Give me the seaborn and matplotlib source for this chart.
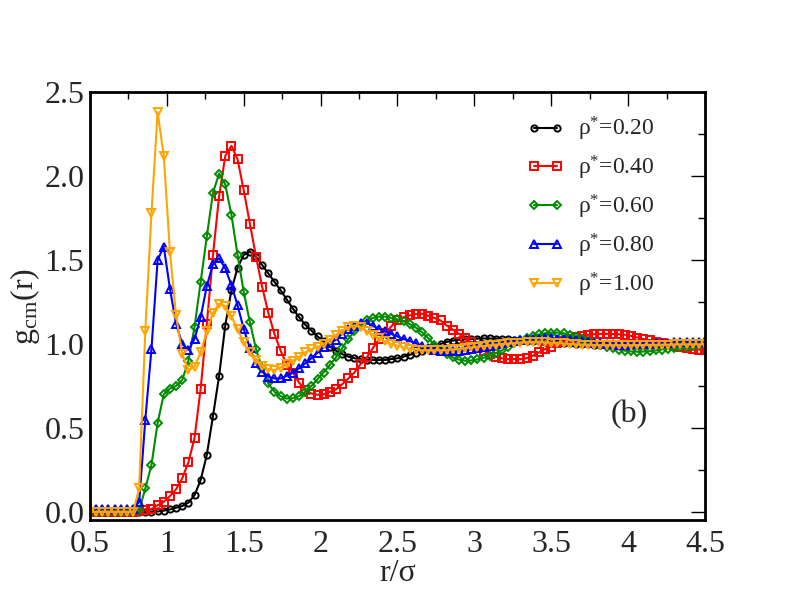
import numpy as np
import pandas as pd
import matplotlib
matplotlib.use("Agg")
import matplotlib.pyplot as plt
from matplotlib.ticker import MultipleLocator
import seaborn as sns

# r/sigma grid of the histogram (step 0.04)
r = np.linspace(0.5, 4.5, 101)

g_020 = [0, 0, 0, 0, 0, 0, 0, 0, 0, 0,
         0.0, 0.003, 0.008, 0.015, 0.025, 0.035, 0.055, 0.10, 0.19, 0.34,
         0.57, 0.81, 1.11, 1.32, 1.455, 1.53, 1.55, 1.52, 1.47, 1.42,
         1.37, 1.32, 1.265, 1.21, 1.16, 1.115, 1.08, 1.045, 1.015, 0.985,
         0.96, 0.94, 0.925, 0.915, 0.91, 0.905, 0.905, 0.905, 0.905, 0.91,
         0.915, 0.925, 0.935, 0.948, 0.96, 0.975, 0.99, 1.0, 1.012, 1.02,
         1.025, 1.028, 1.03, 1.032, 1.033, 1.033, 1.032, 1.03, 1.028, 1.025,
         1.022, 1.02, 1.017, 1.015, 1.012, 1.01, 1.008, 1.005, 1.003, 1.0,
         0.998, 0.997, 0.996, 0.996, 0.997, 0.998, 1.0, 1.0, 1.001, 1.002,
         1.002, 1.002, 1.001, 1.0, 1.0, 1.0, 0.999, 0.999, 1.0, 1.0,
         1.0]

g_040 = [0, 0, 0, 0, 0, 0, 0, 0, 0.005, 0.01,
         0.018, 0.04, 0.06, 0.094, 0.135, 0.20, 0.295, 0.44, 0.735, 1.12,
         1.53, 1.88, 2.12, 2.18, 2.10, 1.915, 1.717, 1.52, 1.34, 1.185,
         1.06, 0.96, 0.877, 0.83, 0.77, 0.725, 0.705, 0.698, 0.70, 0.715,
         0.73, 0.76, 0.795, 0.83, 0.88, 0.92, 0.975, 1.03, 1.063, 1.105,
         1.14, 1.16, 1.17, 1.178, 1.18, 1.168, 1.155, 1.14, 1.11, 1.085,
         1.06, 1.035, 1.01, 0.985, 0.96, 0.943, 0.925, 0.915, 0.91, 0.91,
         0.91, 0.915, 0.93, 0.95, 0.97, 0.985, 1.005, 1.018, 1.03, 1.042,
         1.05, 1.055, 1.058, 1.06, 1.06, 1.06, 1.058, 1.055, 1.048, 1.038,
         1.03, 1.022, 1.013, 1.005, 0.998, 0.99, 0.983, 0.977, 0.972, 0.967,
         0.963]

g_060 = [0, 0, 0, 0, 0, 0, 0, 0, 0.01, 0.14,
         0.28, 0.53, 0.70, 0.735, 0.75, 0.785, 0.90, 1.10, 1.37, 1.64,
         1.90, 2.015, 1.95, 1.77, 1.53, 1.31, 1.13, 0.97, 0.855, 0.765,
         0.715, 0.69, 0.675, 0.677, 0.69, 0.715, 0.75, 0.79, 0.83, 0.875,
         0.92, 0.975, 1.03, 1.075, 1.11, 1.14, 1.155, 1.163, 1.163, 1.155,
         1.147, 1.135, 1.118, 1.097, 1.07, 1.035, 0.995, 0.965, 0.94, 0.92,
         0.907, 0.9, 0.902, 0.908, 0.918, 0.93, 0.945, 0.962, 0.985, 1.005,
         1.022, 1.037, 1.048, 1.057, 1.064, 1.068, 1.068, 1.064, 1.055, 1.043,
         1.03, 1.015, 1.005, 0.995, 0.985, 0.975, 0.967, 0.96, 0.956, 0.954,
         0.955, 0.957, 0.962, 0.967, 0.972, 0.977, 0.981, 0.985, 0.989, 0.993,
         0.997]

g_080 = [0.02, 0.02, 0.02, 0.02, 0.02, 0.02, 0.02, 0.02, 0.06, 0.55,
         0.97, 1.50, 1.58, 1.33, 1.12, 1.0, 0.965, 1.03, 1.16, 1.345,
         1.475, 1.51, 1.45, 1.35, 1.23, 1.09, 0.975, 0.885, 0.835, 0.805,
         0.795, 0.795, 0.81, 0.83, 0.855, 0.885, 0.915, 0.948, 0.98, 1.005,
         1.025, 1.06, 1.09, 1.11, 1.125, 1.125, 1.108, 1.09, 1.075, 1.06,
         1.045, 1.03, 1.017, 1.005, 0.99, 0.977, 0.967, 0.96, 0.957, 0.957,
         0.96, 0.963, 0.968, 0.975, 0.983, 0.99, 0.998, 1.005, 1.012, 1.018,
         1.023, 1.027, 1.03, 1.032, 1.033, 1.033, 1.032, 1.03, 1.026, 1.022,
         1.017, 1.012, 1.007, 1.003, 1.0, 0.998, 0.996, 0.996, 0.997, 0.998,
         1.0, 1.002, 1.004, 1.006, 1.008, 1.01, 1.011, 1.012, 1.013, 1.014,
         1.015]

g_100 = [0, 0, 0, 0, 0, 0, 0, 0, 0.14, 1.08,
         1.78, 2.38, 2.12, 1.55, 1.17, 0.94, 0.845, 0.865, 0.95, 1.075,
         1.185, 1.24, 1.225, 1.165, 1.09, 1.01, 0.95, 0.905, 0.87, 0.85,
         0.845, 0.86, 0.88, 0.9, 0.925, 0.95, 0.968, 0.983, 1.0, 1.025,
         1.055, 1.08, 1.1, 1.11, 1.1, 1.078, 1.055, 1.035, 1.015, 1.0,
         0.99, 0.98, 0.972, 0.967, 0.963, 0.962, 0.962, 0.963, 0.965, 0.968,
         0.972, 0.976, 0.98, 0.984, 0.988, 0.992, 0.996, 1.0, 1.003, 1.006,
         1.008, 1.01, 1.011, 1.011, 1.01, 1.008, 1.006, 1.003, 1.0, 0.998,
         0.996, 0.995, 0.994, 0.993, 0.993, 0.993, 0.993, 0.993, 0.993, 0.994,
         0.994, 0.995, 0.995, 0.996, 0.996, 0.997, 0.997, 0.997, 0.998, 0.998,
         0.998]

densities = ["0.20", "0.40", "0.60", "0.80", "1.00"]
colors = ["black", "#ff0000", "#008b00", "#0000ff", "#ffa500"]
markers = ["o", "s", "D", "^", "v"]
msizes = [4.5, 6, 4.5, 6, 6]
xtick_labels = ["0.5", "1", "1.5", "2", "2.5", "3", "3.5", "4", "4.5"]
ytick_labels = ["0.0", "0.5", "1.0", "1.5", "2.0", "2.5"]

sns.set_style("white")
plt.rcParams['font.family'] = ['Liberation Serif', 'DejaVu Serif']
plt.rcParams['mathtext.fontset'] = 'custom'
plt.rcParams['mathtext.rm'] = 'Liberation Serif'
plt.rcParams['mathtext.it'] = 'Liberation Serif:italic'

fig = plt.figure(figsize=(7.92, 6.12), dpi=100)
ax = fig.add_axes([0.1136, 0.1503, 0.7765, 0.6993])

for g, rho, col, mk, ms in zip([g_020, g_040, g_060, g_080, g_100],
                               densities, colors, markers, msizes):
    df = pd.DataFrame({"r": r, "g": g})
    sns.lineplot(data=df, x="r", y="g", ax=ax, color=col, linewidth=1.5,
                 marker=mk, markersize=ms, markerfacecolor="none",
                 markeredgecolor=col, markeredgewidth=1.4,
                 label="ρ$^{*}$=" + rho)

ax.set_xlim(0.5, 4.5)
ax.set_ylim(-0.048, 2.5)
ax.set_xticks([0.5, 1, 1.5, 2, 2.5, 3, 3.5, 4, 4.5])
ax.set_xticklabels(xtick_labels)
ax.set_yticks([0, 0.5, 1.0, 1.5, 2.0, 2.5])
ax.set_yticklabels(ytick_labels)
ax.xaxis.set_minor_locator(MultipleLocator(0.25))
ax.yaxis.set_minor_locator(MultipleLocator(0.25))
ax.tick_params(which="both", direction="in", top=True, right=True,
               labelsize=23, width=1.0, color="black")
ax.tick_params(which="major", length=10)
ax.tick_params(which="minor", length=5)
ax.tick_params(axis="x", pad=7)
ax.tick_params(axis="y", pad=4)
for sp in ax.spines.values():
    sp.set_linewidth(2)
    sp.set_color("black")

ax.set_xlabel("r/σ", fontsize=23, labelpad=0)
ax.set_ylabel("g$_{\\rm cm}$(r)", fontsize=23, labelpad=2)

ax.text(4.01, 0.58, "(b)", fontsize=23, ha="center", va="center")

ax.legend(loc="upper left", bbox_to_anchor=(0.711, 0.946), frameon=False,
          fontsize=17, numpoints=2, handlelength=1.55, handletextpad=0.6,
          labelspacing=0.45, borderpad=0, borderaxespad=0)

fig.savefig("out.png", dpi=100)
